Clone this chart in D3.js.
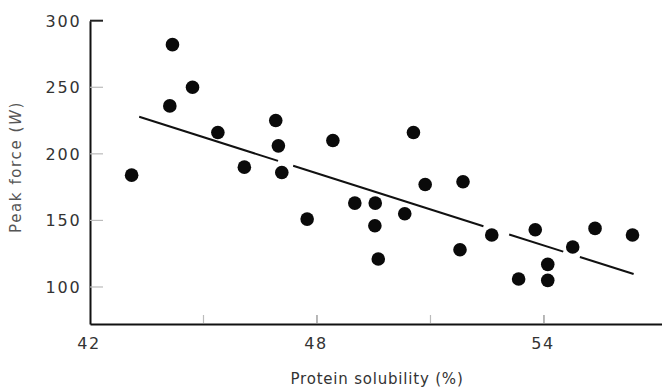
<!DOCTYPE html>
<html>
<head>
<meta charset="utf-8">
<script src="https://cdn.jsdelivr.net/npm/d3@7"></script>
<style>
  html, body { margin: 0; padding: 0; background: #fff; }
  svg { display: block; }
</style>
</head>
<body>
<svg id="chart" width="662" height="389"></svg>
<script>
// ---- data ----
const solubility = [43.10, 44.18, 44.11, 44.71, 45.38, 46.08, 46.91, 46.98, 47.07, 47.74,
                    48.42, 50.55, 49.00, 49.54, 49.53, 49.62, 50.32, 50.86, 51.86, 51.78,
                    52.62, 53.77, 53.33, 54.10, 54.10, 54.76, 55.35, 56.34];
const peakForce  = [184, 282, 236, 250, 216, 190, 225, 206, 186, 151,
                    210, 216, 163, 163, 146, 121, 155, 177, 179, 128,
                    139, 143, 106, 117, 105, 130, 144, 139];
const fitIntercept = 619.3;
const fitSlope = -9.04;
const fitSegments = [[43.30, 46.97], [47.37, 52.40], [53.08, 54.51], [54.95, 56.37]];
const xTickLabels = [42, 48, 54];
const xMinorTicks = [45, 51];
const yTickLabels = [100, 150, 200, 250, 300];

// ---- drawing ----
const svg = d3.select("#chart");
const x = d3.scaleLinear().domain([42, 57.12]).range([90, 662]);
const y = d3.scaleLinear().domain([72.2, 300]).range([324, 20.7]);
const font = "'DejaVu Sans', sans-serif";

// axes lines
const xAxis = d3.axisBottom(x).tickValues([]).tickSizeOuter(0);
svg.append("g").attr("transform", `translate(0,${y(72.2)})`).call(xAxis)
  .call(g => g.select(".domain").attr("stroke", "#111").attr("stroke-width", 2));

const yAxis = d3.axisLeft(y).tickValues([]).tickSizeOuter(0);
svg.append("g").attr("transform", `translate(${x(42)},0)`).call(yAxis)
  .call(g => g.select(".domain").attr("stroke", "#111").attr("stroke-width", 2));

// x ticks (inward)
svg.append("g").selectAll("line")
  .data(xTickLabels.filter(d => d !== 42).concat(xMinorTicks))
  .join("line")
  .attr("x1", d => x(d)).attr("x2", d => x(d))
  .attr("y1", y(72.2) - 1).attr("y2", y(72.2) - 9)
  .attr("stroke", d => xMinorTicks.includes(d) ? "#bbb" : "#888")
  .attr("stroke-width", 1.2);

svg.append("g").selectAll("text")
  .data(xTickLabels).join("text")
  .attr("x", d => x(d) - 1).attr("y", 349)
  .attr("text-anchor", "middle")
  .attr("font-family", font).attr("font-size", 16)
  .attr("letter-spacing", 1.5)
  .attr("fill", "#333")
  .text(d => d);

// y ticks (inward)
svg.append("g").selectAll("line")
  .data(yTickLabels).join("line")
  .attr("x1", x(42)).attr("x2", x(42) + 13)
  .attr("y1", d => y(d)).attr("y2", d => y(d))
  .attr("stroke", d => d === 300 ? "#222" : "#bbb")
  .attr("stroke-width", d => d === 300 ? 2 : 1.2);

svg.append("g").selectAll("text")
  .data(yTickLabels).join("text")
  .attr("x", 81.5).attr("y", d => y(d) + 6)
  .attr("text-anchor", "end")
  .attr("font-family", font).attr("font-size", 16)
  .attr("letter-spacing", 1.8)
  .attr("fill", "#333")
  .text(d => d);

// axis titles
svg.append("text")
  .attr("x", 377).attr("y", 384)
  .attr("text-anchor", "middle")
  .attr("font-family", font).attr("font-size", 15)
  .attr("letter-spacing", 0.8)
  .attr("fill", "#333")
  .text("Protein solubility (%)");

const yt = svg.append("text")
  .attr("transform", "translate(21,167) rotate(-90)")
  .attr("text-anchor", "middle")
  .attr("font-family", font).attr("font-size", 15)
  .attr("letter-spacing", 1.6)
  .attr("fill", "#555");
yt.append("tspan").text("Peak force (");
yt.append("tspan").attr("font-style", "italic").text("W");
yt.append("tspan").text(")");

// regression line segments
svg.append("g").selectAll("line")
  .data(fitSegments).join("line")
  .attr("x1", d => x(d[0])).attr("y1", d => y(fitIntercept + fitSlope * d[0]))
  .attr("x2", d => x(d[1])).attr("y2", d => y(fitIntercept + fitSlope * d[1]))
  .attr("stroke", "#111").attr("stroke-width", 2);

// points
svg.append("g").selectAll("circle")
  .data(solubility.map((s, i) => [s, peakForce[i]]))
  .join("circle")
  .attr("cx", d => x(d[0])).attr("cy", d => y(d[1]))
  .attr("r", 6.8)
  .attr("fill", "#0a0a0a");
</script>
</body>
</html>
